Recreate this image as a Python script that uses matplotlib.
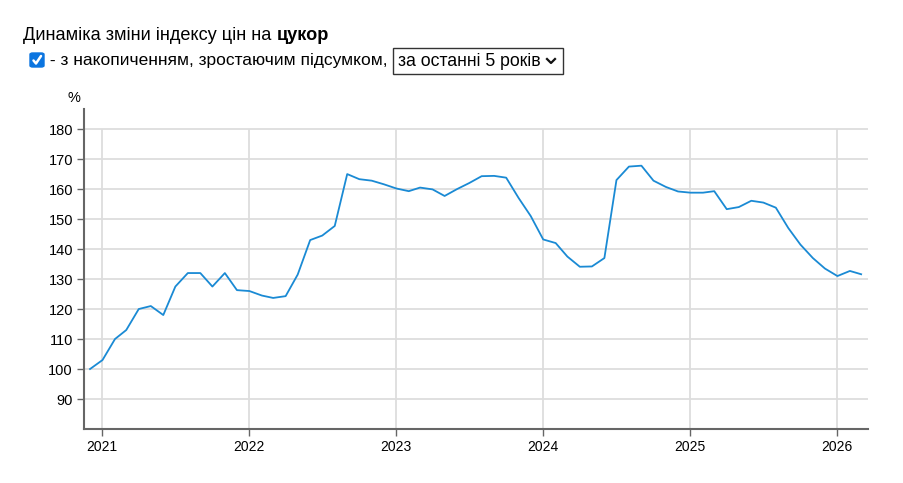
import numpy as np
import matplotlib
matplotlib.use("Agg")
import matplotlib.pyplot as plt
import matplotlib.dates as mdates
from matplotlib.patches import FancyBboxPatch, Rectangle
import datetime as dt

plt.rcParams['font.family'] = ['Liberation Sans', 'DejaVu Sans']

# ---- data ----
start_year, start_month = 2020, 12
values = [
    100.0,
    103.0, 110.0, 113.0, 120.0, 121.0, 118.0, 127.5, 132.0, 132.0, 127.5, 132.0, 126.3,
    126.0, 124.5, 123.7, 124.3, 131.5, 143.0, 144.5, 147.7, 165.0, 163.3, 162.8, 161.6,
    160.2, 159.3, 160.5, 159.9, 157.7, 160.0, 162.0, 164.3, 164.4, 163.8, 157.0, 151.0,
    143.2, 142.0, 137.5, 134.1, 134.2, 137.0, 163.0, 167.5, 167.8, 162.8, 160.7, 159.2,
    158.8, 158.8, 159.3, 153.3, 154.0, 156.1, 155.5, 153.8, 147.0, 141.5, 137.0, 133.5,
    131.0, 132.7, 131.6,
]
year_ticks = [2021, 2022, 2023, 2024, 2025, 2026]
y_ticks = [90, 100, 110, 120, 130, 140, 150, 160, 170, 180]

title_normal = "Динаміка зміни індексу цін на "
title_bold = "цукор"
checkbox_label = " - з накопиченням, зростаючим підсумком,"
dropdown_label = "за останні 5 років"

dates = []
y, m = start_year, start_month
for _ in values:
    dates.append(dt.date(y, m, 2))
    m += 1
    if m > 12:
        m = 1
        y += 1

W, H = 904, 483
fig = plt.figure(figsize=(W / 100, H / 100), dpi=100)
ax = fig.add_axes([84 / W, 1 - 429 / H, (868 - 84) / W, (429 - 109) / H])

ax.set_xlim(dt.date(2020, 11, 17), dt.date(2026, 3, 19))
ax.set_ylim(80, 186.7)

grid_c = "#dddddd"
for v in y_ticks:
    ax.axhline(v, color=grid_c, lw=1.3, zorder=0)
year_dates = [dt.date(yy, 1, 1) for yy in year_ticks]
ax.vlines(year_dates, 80, 180, color=grid_c, lw=1.3, zorder=0)

ax.plot(dates, values, color="#1a8ad4", lw=1.3, zorder=3)

ax.set_yticks(y_ticks)
ax.set_yticklabels([str(v) for v in y_ticks], fontsize=10.5)
ax.set_xticks(year_dates)
ax.set_xticklabels([str(yy) for yy in year_ticks], fontsize=10)
ax.tick_params(axis='y', length=5, width=1, color="#666666", pad=3)
ax.tick_params(axis='x', length=5, width=1, color="#666666", pad=3)

for s in ["top", "right"]:
    ax.spines[s].set_visible(False)
for s in ["left", "bottom"]:
    ax.spines[s].set_color("#666666")
    ax.spines[s].set_linewidth(1.5)

fig.text(74 / W, 1 - 98 / H, "%", fontsize=10.5, ha="center", va="center")

# ---- header ----
fig.canvas.draw()
r = fig.canvas.get_renderer()
t1 = fig.text(23 / W, 1 - 35 / H, title_normal, fontsize=13.1, va="center", ha="left")
bb = t1.get_window_extent(renderer=r)
fig.text(bb.x1 / W, 1 - 35 / H, title_bold, fontsize=13.1, fontweight="bold", va="center", ha="left")

# checkbox
cb = FancyBboxPatch((30 / W, 1 - 67 / H), 14 / W, 14 / H,
                    boxstyle="round,pad=0,rounding_size=0.003",
                    transform=fig.transFigure, facecolor="#0b75e0", edgecolor="#0b75e0")
fig.patches.append(cb)
fig.lines.append(plt.Line2D([33.5 / W, 36 / W, 41 / W], [1 - 60.5 / H, 1 - 63.5 / H, 1 - 56 / H],
                            transform=fig.transFigure, color="white", lw=1.8,
                            solid_capstyle="round", solid_joinstyle="round"))
fig.text(45 / W, 1 - 61 / H, checkbox_label, fontsize=12.5, va="center", ha="left")

# dropdown
dd = Rectangle((393 / W, 1 - 74 / H), 170 / W, 26 / H, transform=fig.transFigure,
               facecolor="white", edgecolor="#333333", lw=1)
fig.patches.append(dd)
fig.text(398 / W, 1 - 61 / H, dropdown_label, fontsize=12.7, va="center", ha="left")
fig.lines.append(plt.Line2D([547 / W, 551 / W, 555 / W], [1 - 59 / H, 1 - 63 / H, 1 - 59 / H],
                            transform=fig.transFigure, color="#111111", lw=1.6))

fig.savefig("out.png", dpi=100)
